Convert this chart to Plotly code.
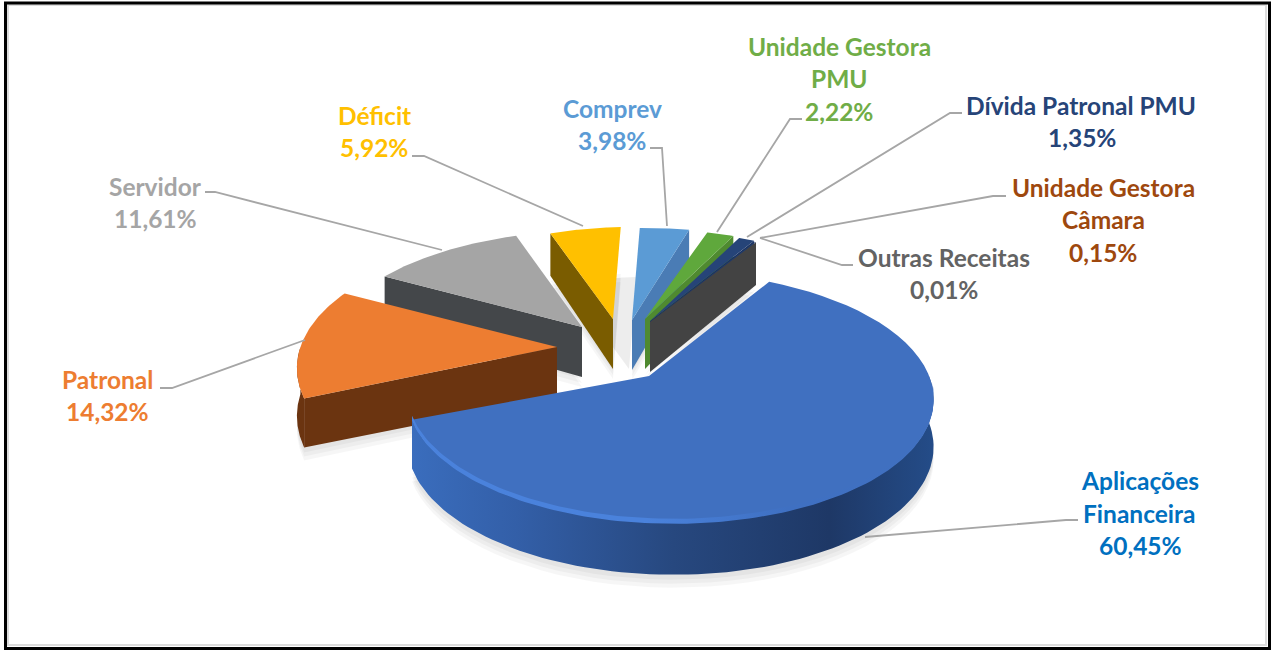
import math
import plotly.graph_objects as go

# ---- data -------------------------------------------------------------
categories = ["Aplicações Financeira", "Patronal", "Servidor", "Déficit", "Comprev",
              "Unidade Gestora PMU", "Dívida Patronal PMU", "Unidade Gestora Câmara", "Outras Receitas"]
values = [60.45, 14.32, 11.61, 5.92, 3.98, 2.22, 1.35, 0.15, 0.01]
percent_labels = ["60,45%", "14,32%", "11,61%", "5,92%", "3,98%", "2,22%", "1,35%", "0,15%", "0,01%"]
top_colors = ["#4070c0", "#ed7d31", "#a5a5a5", "#ffc000", "#5b9bd5", "#5fa83c", "#264478", "#264478", "#434343"]
wall_colors = ["#2a4f8f", "#6b3410", "#44474a", "#7a5c00", "#4a7cb5", "#4f8a30", "#1c3360", "#434343", "#434343"]
text_colors = ["#0070c0", "#ed7d31", "#a5a5a5", "#ffc000", "#5b9bd5", "#70ad47", "#264478", "#9e480e", "#636363"]
label_lines = [["Aplicações", "Financeira"], ["Patronal"], ["Servidor"], ["Déficit"], ["Comprev"],
               ["Unidade Gestora", "PMU"], ["Dívida Patronal PMU"], ["Unidade Gestora", "Câmara"], ["Outras Receitas"]]

# ---- layout of the exploded 3-D pie -------------------------------------
START_ANGLE = 32.0
slice_origin = [(649, 376), (557, 347), (582, 327), (613, 319), (632, 320), (645, 319), (650, 321), (650, 322), (650, 322)]
slice_scale = [0.995, 1.07, 1.03, 0.88, 0.88, 0.85, 0.85, 0.85, 0.85]
slice_yscale = [1.0, 1.0, 0.9, 1.0, 1.0, 1.0, 1.0, 1.0, 1.0]
slice_rotate = [-1, -3, 0, -2, -2, 0, 0, 0, 0]
wall_edge = [None, 0, 0, 0, 1, 1, 1, None, 1]   # 0: starting edge, 1: closing edge
RX, RY, KV, KU, DEPTH = 259.0, 122.0, 0.17, 0.08, 47.0
label_xy = [[(1140, 480), (1139, 513), (1140, 545)], [(107, 379), (107, 411)], [(155, 186), (155, 218)],
            [(374, 115), (374, 147)], [(612, 108), (612, 140)], [(839, 46), (839, 78), (839, 111)],
            [(1081, 105), (1082, 137)], [(1103, 187), (1103, 219), (1103, 252)], [(944, 257), (944, 289)]]
leaders = [[(865, 537), (1066, 520), (1078, 520)], [(305, 340), (172, 388), (160, 388)], [(442, 250), (215, 192), (205, 192)],
           [(583, 226), (424, 156), (412, 156)], [(667, 226), (662, 148), (650, 148)], [(717, 232), (790, 119), (802, 119)],
           [(747, 237), (950, 113), (962, 113)], [(760, 238), (993, 196), (1006, 196)], [(760, 238), (842, 265), (853, 265)]]


def proj(i, a_deg, r=1.0):
    a = math.radians(a_deg)
    u, v = r * math.sin(a), -r * math.cos(a)
    w = 1 - KV * v - KU * u
    s = slice_scale[i]
    ox, oy = slice_origin[i]
    return ox + s * RX * u / w, oy + s * slice_yscale[i] * RY * v / w, DEPTH + 5 * v


def rim(i, a1, a2, n=60):
    return [proj(i, a1 + (a2 - a1) * t / n) for t in range(n + 1)]


fig = go.Figure()


def poly(pts, color=None, **kw):
    xs = [p[0] for p in pts] + [pts[0][0]]
    ys = [p[1] for p in pts] + [pts[0][1]]
    fig.add_trace(go.Scatter(x=xs, y=ys, mode="lines", fill="toself", fillcolor=color,
                             line=dict(width=0, color="rgba(0,0,0,0)"), hoverinfo="skip", showlegend=False, **kw))


# cumulative angles come from the values
angles = []
cur = START_ANGLE
for k, val in enumerate(values):
    angles.append((cur + slice_rotate[k], cur + val * 3.6 + slice_rotate[k]))
    cur += val * 3.6

draw_order = [3, 4, 5, 6, 7, 8, 2, 1, 0]

# soft shadows
a1, a2 = angles[3]
ox, oy = slice_origin[3]
poly([(ox + 16, oy + 50)] + [(x + 16, y + 50) for x, y, d in rim(3, a1, a2)], "rgba(0,0,0,0.07)")
for layer, (dx, dy) in enumerate([(0, 13), (0, 9), (0, 5)]):
    for i in draw_order:
        a1, a2 = angles[i]
        pts = [(x + dx, y + d + dy) for x, y, d in rim(i, a1, a2)]
        ox, oy = slice_origin[i]
        poly(pts + [(ox + dx, oy + DEPTH + dy)], "rgba(0,0,0,0.035)")

for i in draw_order:
    a1, a2 = angles[i]
    ox, oy = slice_origin[i]
    edge = rim(i, a1, a2)
    # outer wall, only the part facing the viewer
    lo, hi = max(a1, 90), min(a2, 270)
    if lo < hi:
        wall = rim(i, lo, hi, 90)
        pts = [(x, y) for x, y, d in wall] + [(x, y + d) for x, y, d in reversed(wall)]
        if i == 0:
            poly(pts, None, fillgradient=dict(type="horizontal", colorscale=[
                [0, "#3a6dbd"], [0.2, "#335fa8"], [0.5, "#27487f"], [0.8, "#1e3866"], [1, "#244c88"]]))
        else:
            poly(pts, wall_colors[i])
    # radial wall facing the viewer
    if wall_edge[i] is not None:
        cut = a2 if wall_edge[i] == 1 else a1
        x, y, d = proj(i, cut)
        poly([(ox, oy), (x, y), (x, y + d), (ox, oy + DEPTH + 3)], wall_colors[i])
    # top face
    poly([(ox, oy)] + [(x, y) for x, y, d in edge], top_colors[i])

# bevel highlight along the front edge of the largest slice
a1, a2 = angles[0]
hi_edge = rim(0, max(a1, 95), a2, 120)
inner = [(x, y - 4) for x, y, d in hi_edge]
poly([(x, y + 1) for x, y, d in hi_edge] + list(reversed(inner)), None, fillgradient=dict(
    type="horizontal", colorscale=[[0, "#4a82dc"], [0.45, "#4a82dc"], [0.72, "#3f70c2"], [1, "#4070c0"]]))

# leader lines
for seg in leaders:
    fig.add_trace(go.Scatter(x=[p[0] for p in seg], y=[p[1] for p in seg], mode="lines",
                             line=dict(color="#a6a6a6", width=1.8), hoverinfo="skip", showlegend=False))

# labels
annotations = []
for i in range(len(values)):
    lines = label_lines[i] + [percent_labels[i]]
    for txt, (x, y) in zip(lines, label_xy[i]):
        annotations.append(dict(x=x, y=y, xref="x", yref="y", text=f"<b>{txt}</b>", showarrow=False,
                                xanchor="center", yanchor="middle",
                                font=dict(family="Lato", size=24.5, color=text_colors[i])))

frame = [
    dict(type="rect", xref="x", yref="y", x0=8, y0=5, x1=1266, y1=645, line=dict(color="#dcdcdc", width=2)),
    dict(type="rect", xref="x", yref="y", x0=5.5, y0=3, x1=1269.5, y1=648.5, line=dict(color="#000000", width=3)),
]

fig.update_layout(
    width=1274, height=650, autosize=False, margin=dict(l=0, r=0, t=0, b=0),
    paper_bgcolor="white", plot_bgcolor="white", showlegend=False,
    xaxis=dict(range=[0, 1274], visible=False, fixedrange=True),
    yaxis=dict(range=[650, 0], visible=False, fixedrange=True),
    annotations=annotations, shapes=frame,
)

fig.write_html("out.html", config=dict(displayModeBar=False),
               post_script="document.body.style.margin='0';document.body.style.overflow='hidden';")
